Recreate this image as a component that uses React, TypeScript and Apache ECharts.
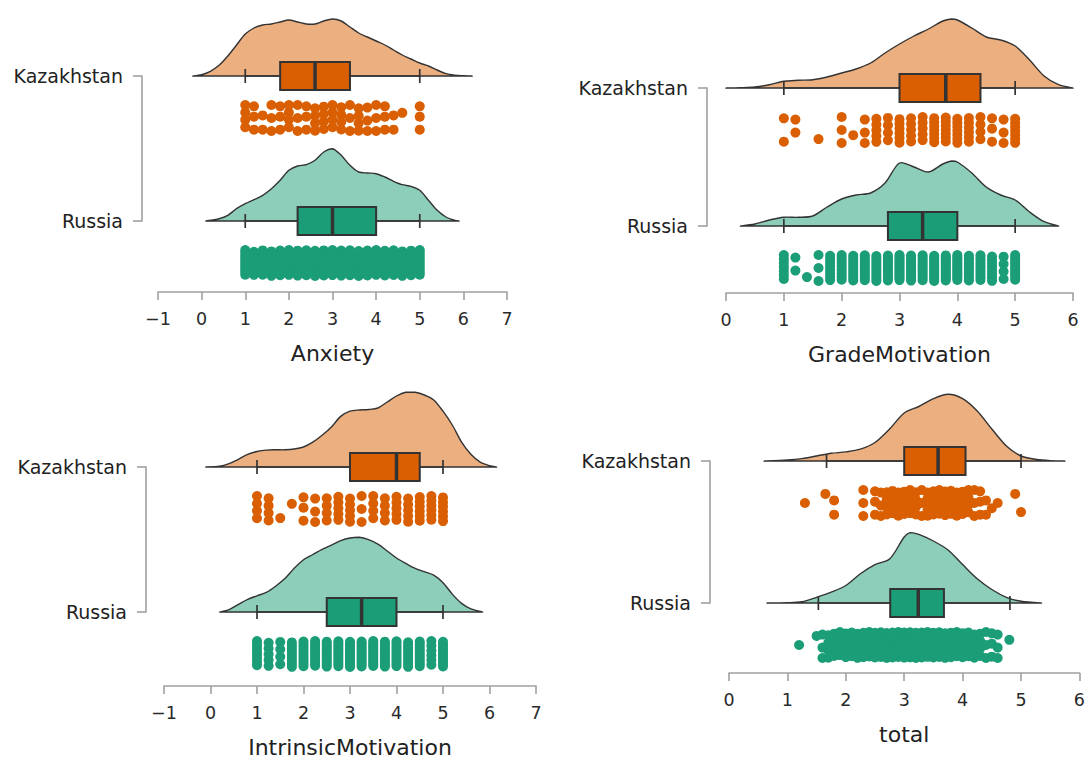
import { useEffect, useRef } from "react";
import * as echarts from "echarts";

// ---- data -------------------------------------------------------------
const groupNames = ["Kazakhstan", "Russia"];
const variables = ["Anxiety", "GradeMotivation", "IntrinsicMotivation", "total"];

// five-number summaries: [lower whisker, Q1, median, Q3, upper whisker]
const anxietyKazBox = [1, 1.8, 2.6, 3.4, 5];
const anxietyRusBox = [1, 2.2, 3.0, 4.0, 5];
const gradeKazBox = [1, 3.0, 3.8, 4.4, 5];
const gradeRusBox = [1, 2.8, 3.4, 4.0, 5];
const intrinsicKazBox = [1, 3.0, 4.0, 4.5, 5];
const intrinsicRusBox = [1, 2.5, 3.25, 4.0, 5];
const totalKazBox = [1.67, 3.0, 3.58, 4.05, 5.0];
const totalRusBox = [1.53, 2.76, 3.24, 3.68, 4.81];

// kernel density estimates: [score, density]
const anxietyKazDensity = [
  [-0.2, 0], [0, 0.013], [0.2, 0.047], [0.4, 0.107], [0.6, 0.2], [0.8, 0.31], [1.0, 0.42],
  [1.2, 0.48], [1.4, 0.51], [1.6, 0.52], [1.8, 0.54], [2.0, 0.56], [2.2, 0.54], [2.4, 0.52],
  [2.6, 0.52], [2.8, 0.55], [3.0, 0.57], [3.2, 0.55], [3.4, 0.49], [3.6, 0.43], [3.8, 0.39],
  [4.0, 0.35], [4.2, 0.31], [4.4, 0.26], [4.6, 0.21], [4.8, 0.17], [5.0, 0.13], [5.2, 0.1],
  [5.4, 0.06], [5.6, 0.023], [5.8, 0.007], [6.0, 0.002], [6.2, 0],
];
const anxietyRusDensity = [
  [0.1, 0], [0.4, 0.023], [0.6, 0.057], [0.8, 0.123], [1.0, 0.173], [1.2, 0.213], [1.4, 0.257],
  [1.6, 0.323], [1.8, 0.407], [2.0, 0.507], [2.2, 0.55], [2.4, 0.563], [2.6, 0.607], [2.8, 0.69],
  [3.0, 0.723], [3.2, 0.657], [3.4, 0.557], [3.6, 0.49], [3.8, 0.48], [4.0, 0.473], [4.2, 0.44],
  [4.4, 0.397], [4.6, 0.363], [4.8, 0.347], [5.0, 0.307], [5.2, 0.207], [5.4, 0.107], [5.6, 0.04],
  [5.8, 0.007], [5.9, 0],
];
const gradeKazDensity = [
  [0, 0], [0.25, 0.003], [0.5, 0.01], [0.75, 0.033], [1.0, 0.067], [1.25, 0.077], [1.5, 0.083],
  [1.75, 0.11], [2.0, 0.15], [2.25, 0.19], [2.5, 0.25], [2.75, 0.35], [3.0, 0.44], [3.25, 0.52],
  [3.5, 0.59], [3.75, 0.67], [3.9, 0.69], [4.0, 0.68], [4.25, 0.6], [4.5, 0.51], [4.75, 0.48],
  [5.0, 0.42], [5.25, 0.28], [5.5, 0.12], [5.75, 0.033], [6.0, 0],
];
const gradeRusDensity = [
  [0.25, 0], [0.5, 0.02], [0.75, 0.06], [1.0, 0.087], [1.25, 0.087], [1.5, 0.1], [1.75, 0.19],
  [2.0, 0.27], [2.25, 0.31], [2.5, 0.33], [2.75, 0.43], [3.0, 0.63], [3.25, 0.59], [3.5, 0.54],
  [3.75, 0.62], [3.9, 0.65], [4.0, 0.64], [4.25, 0.53], [4.5, 0.39], [4.75, 0.31], [5.0, 0.26],
  [5.25, 0.14], [5.5, 0.043], [5.75, 0],
];
const intrinsicKazDensity = [
  [-0.1, 0], [0.2, 0.007], [0.4, 0.034], [0.6, 0.076], [0.8, 0.127], [1.0, 0.155], [1.2, 0.169],
  [1.4, 0.172], [1.6, 0.172], [1.8, 0.18], [2.0, 0.2], [2.2, 0.248], [2.4, 0.317], [2.6, 0.4],
  [2.8, 0.506], [3.0, 0.558], [3.2, 0.57], [3.4, 0.575], [3.6, 0.59], [3.8, 0.65], [4.0, 0.71],
  [4.2, 0.747], [4.4, 0.747], [4.6, 0.72], [4.8, 0.67], [5.0, 0.558], [5.2, 0.42], [5.4, 0.248],
  [5.6, 0.127], [5.8, 0.048], [6.0, 0.014], [6.15, 0],
];
const intrinsicRusDensity = [
  [0.2, 0], [0.4, 0.024], [0.6, 0.076], [0.8, 0.127], [1.0, 0.162], [1.2, 0.196], [1.4, 0.258],
  [1.6, 0.334], [1.8, 0.437], [2.0, 0.523], [2.2, 0.575], [2.4, 0.627], [2.6, 0.668], [2.8, 0.713],
  [3.0, 0.74], [3.2, 0.747], [3.4, 0.723], [3.6, 0.678], [3.8, 0.61], [4.0, 0.54], [4.2, 0.486],
  [4.4, 0.437], [4.6, 0.403], [4.8, 0.368], [5.0, 0.293], [5.2, 0.179], [5.4, 0.086], [5.6, 0.031],
  [5.85, 0],
];
const totalKazDensity = [
  [0.6, 0], [1.0, 0.01], [1.25, 0.024], [1.5, 0.05], [1.75, 0.077], [2.0, 0.091], [2.25, 0.118],
  [2.5, 0.185], [2.75, 0.32], [3.0, 0.48], [3.25, 0.545], [3.5, 0.623], [3.75, 0.667], [4.0, 0.623],
  [4.25, 0.5], [4.5, 0.32], [4.75, 0.15], [5.0, 0.05], [5.25, 0.017], [5.5, 0.003], [5.75, 0],
];
const totalRusDensity = [
  [0.65, 0], [1.0, 0.003], [1.25, 0.013], [1.5, 0.057], [1.75, 0.108], [2.0, 0.175], [2.25, 0.293],
  [2.5, 0.384], [2.75, 0.44], [3.0, 0.66], [3.1, 0.704], [3.25, 0.687], [3.5, 0.62], [3.75, 0.53],
  [4.0, 0.384], [4.25, 0.242], [4.5, 0.135], [4.75, 0.057], [5.0, 0.017], [5.35, 0],
];

// observed scores: [score, number of respondents]
const anxietyKazCounts = [
  [1, 4], [1.2, 3], [1.4, 2], [1.6, 3], [1.8, 3], [2, 4], [2.2, 3], [2.4, 3], [2.6, 4], [2.8, 4],
  [3, 4], [3.2, 4], [3.4, 3], [3.6, 4], [3.8, 3], [4, 3], [4.2, 3], [4.4, 2], [4.6, 1], [5, 3],
];
const anxietyRusCounts = [
  [1, 10], [1.2, 5], [1.4, 8], [1.6, 9], [1.8, 10], [2, 12], [2.2, 12], [2.4, 13], [2.6, 14],
  [2.8, 15], [3, 15], [3.2, 14], [3.4, 13], [3.6, 12], [3.8, 12], [4, 12], [4.2, 11], [4.4, 10],
  [4.6, 9], [4.8, 9], [5, 10],
];
const gradeKazCounts = [
  [1, 2], [1.2, 2], [1.6, 1], [2, 3], [2.2, 1], [2.4, 3], [2.6, 5], [2.8, 4], [3, 6], [3.2, 5],
  [3.4, 5], [3.6, 7], [3.8, 7], [4, 7], [4.2, 6], [4.4, 4], [4.6, 3], [4.8, 3], [5, 7],
];
const gradeRusCounts = [
  [1, 7], [1.2, 2], [1.4, 1], [1.6, 3], [1.8, 8], [2, 10], [2.2, 10], [2.4, 12], [2.6, 11],
  [2.8, 13], [3, 15], [3.2, 13], [3.4, 12], [3.6, 14], [3.8, 14], [4, 14], [4.2, 11], [4.4, 10],
  [4.6, 8], [4.8, 4], [5, 10],
];
const intrinsicKazCounts = [
  [1, 4], [1.25, 4], [1.5, 1], [1.75, 1], [2, 3], [2.25, 3], [2.5, 4], [2.75, 5], [3, 5],
  [3.25, 3], [3.5, 4], [3.75, 4], [4, 5], [4.25, 5], [4.5, 6], [4.75, 6], [5, 6],
];
const intrinsicRusCounts = [
  [1, 8], [1.25, 5], [1.5, 4], [1.75, 9], [2, 10], [2.25, 11], [2.5, 12], [2.75, 12], [3, 14],
  [3.25, 13], [3.5, 13], [3.75, 12], [4, 11], [4.25, 10], [4.5, 10], [4.75, 6], [5, 10],
];
const totalKazCounts = [
  [1.3, 1], [1.65, 1], [1.8, 2], [2.3, 3], [2.5, 3], [2.6, 3], [2.7, 4], [2.8, 4], [2.9, 5],
  [3, 4], [3.1, 5], [3.2, 4], [3.3, 3], [3.4, 5], [3.5, 5], [3.6, 6], [3.7, 6], [3.8, 5],
  [3.9, 5], [4, 4], [4.1, 4], [4.2, 3], [4.3, 3], [4.4, 2], [4.5, 1], [4.6, 1], [4.9, 1], [5, 1],
];
const totalRusCounts = [
  [1.2, 1], [1.5, 1], [1.6, 3], [1.7, 4], [1.8, 4], [1.9, 5], [2, 6], [2.1, 6], [2.2, 7],
  [2.3, 8], [2.4, 9], [2.5, 10], [2.6, 10], [2.7, 11], [2.8, 12], [2.9, 13], [3, 14], [3.1, 15],
  [3.2, 14], [3.3, 13], [3.4, 12], [3.5, 11], [3.6, 10], [3.7, 10], [3.8, 9], [3.9, 8], [4, 7],
  [4.1, 6], [4.2, 5], [4.3, 4], [4.4, 3], [4.5, 3], [4.6, 3], [4.8, 1],
];

// ---- styling / layout -------------------------------------------------
const FONT = "DejaVu Sans";
const INK = "#333333";
const KAZ_COLOR = "#D95F02";
const KAZ_FILL = "#ECAF80";
const RUS_COLOR = "#1B9E77";
const RUS_FILL = "#8DCEBB";
const AXIS_GREY = "#a0a0a0";

type Group = {
  pos: number;
  color: string;
  fill: string;
  box: number[];
  density: number[][];
  counts: number[][];
};

type Panel = {
  title: string;
  xMin: number;
  xMax: number;
  left: number;
  right: number;
  kazY: number;
  rusY: number;
  axisY: number;
  bracketX: number;
  groups: Group[];
};

const kaz = (box: number[], density: number[][], counts: number[][]): Group => ({
  pos: 1, color: KAZ_COLOR, fill: KAZ_FILL, box, density, counts,
});
const rus = (box: number[], density: number[][], counts: number[][]): Group => ({
  pos: 0, color: RUS_COLOR, fill: RUS_FILL, box, density, counts,
});

const panels: Panel[] = [
  {
    title: variables[0], xMin: -1, xMax: 7, left: 158, right: 507,
    kazY: 76, rusY: 221, axisY: 292, bracketX: 142,
    groups: [kaz(anxietyKazBox, anxietyKazDensity, anxietyKazCounts), rus(anxietyRusBox, anxietyRusDensity, anxietyRusCounts)],
  },
  {
    title: variables[1], xMin: 0, xMax: 6, left: 726, right: 1073,
    kazY: 88, rusY: 226, axisY: 293, bracketX: 707,
    groups: [kaz(gradeKazBox, gradeKazDensity, gradeKazCounts), rus(gradeRusBox, gradeRusDensity, gradeRusCounts)],
  },
  {
    title: variables[2], xMin: -1, xMax: 7, left: 164, right: 536,
    kazY: 467, rusY: 612, axisY: 686, bracketX: 146,
    groups: [kaz(intrinsicKazBox, intrinsicKazDensity, intrinsicKazCounts), rus(intrinsicRusBox, intrinsicRusDensity, intrinsicRusCounts)],
  },
  {
    title: variables[3], xMin: 0, xMax: 6, left: 729, right: 1083,
    kazY: 461, rusY: 603, axisY: 673, bracketX: 710,
    groups: [kaz(totalKazBox, totalKazDensity, totalKazCounts), rus(totalRusBox, totalRusDensity, totalRusCounts)],
  },
];

const BOX_HALF = 14; // px
const CAP_HALF = 7; // px
const RAIN_OFFSET = 42; // px below the box centre
const RAIN_HALF = 13; // px
const DOT_SIZE = 10; // px

// vertical placement of the rain dots inside their strip (0 = top, 1 = bottom)
const SINGLE_ROWS = [0.5, 0.15, 0.85, 0.3, 0.7];
const PAIR_ROWS = [[0.05, 0.95], [0.1, 0.6], [0.4, 0.95]];
const TRIPLE_ROWS = [[0, 0.5, 1], [0.05, 0.45, 0.95], [0.1, 0.6, 1]];
const COLUMN_SHIFT = [0, 0.6, 0.25, 0.9, 0.45];

function rainPoints(g: Group, spacing: number): number[][] {
  const pts: number[][] = [];
  const centre = g.pos - RAIN_OFFSET / spacing;
  const half = RAIN_HALF / spacing;
  g.counts.forEach(([v, n], k) => {
    for (let i = 0; i < n; i++) {
      let t: number;
      if (n >= 4) t = (i + 0.5 * COLUMN_SHIFT[k % 5]) / (n - 0.5);
      else if (n === 3) t = TRIPLE_ROWS[k % 3][i];
      else if (n === 2) t = PAIR_ROWS[k % 3][i];
      else t = SINGLE_ROWS[k % 5];
      pts.push([v, centre + (0.5 - t) * 2 * half]);
    }
  });
  return pts;
}

function bounds(points: number[][]): number[][] {
  let x0 = Infinity, y0 = Infinity, x1 = -Infinity, y1 = -Infinity;
  points.forEach(([x, y]) => {
    x0 = Math.min(x0, x); y0 = Math.min(y0, y);
    x1 = Math.max(x1, x); y1 = Math.max(y1, y);
  });
  return [[x0, y0], [x1, y1]];
}

function buildOption() {
  const grid: any[] = [];
  const xAxis: any[] = [];
  const yAxis: any[] = [];
  const series: any[] = [];

  panels.forEach((p, i) => {
    const spacing = p.rusY - p.kazY;
    const ridgeScale = 100 / spacing; // category units per density unit
    grid.push({ left: p.left, top: p.kazY, width: p.right - p.left, height: spacing });
    xAxis.push({
      type: "value",
      gridIndex: i,
      min: p.xMin,
      max: p.xMax,
      interval: 1,
      position: "bottom",
      offset: p.axisY - p.rusY,
      name: p.title,
      nameLocation: "middle",
      nameGap: 50,
      nameTextStyle: { fontFamily: FONT, fontSize: 22, color: "#222" },
      axisLine: { show: true, onZero: false, lineStyle: { color: AXIS_GREY, width: 1.6 } },
      axisTick: { show: true, length: 8, lineStyle: { color: AXIS_GREY, width: 1.6 } },
      axisLabel: {
        fontFamily: FONT,
        fontSize: 17.5,
        color: "#2a2a2a",
        margin: 18,
        formatter: (v: number) => (v < 0 ? "\u2212" + Math.abs(v) : String(v)),
      },
      splitLine: { show: false },
    });
    yAxis.push({
      type: "value",
      gridIndex: i,
      min: 0,
      max: 1,
      interval: 1,
      offset: p.left - p.bracketX,
      axisLine: { show: true, onZero: false, lineStyle: { color: AXIS_GREY, width: 1.6 } },
      axisTick: { show: true, length: 9, lineStyle: { color: AXIS_GREY, width: 1.6 } },
      axisLabel: {
        fontFamily: FONT,
        fontSize: 19,
        color: "#222",
        margin: 19,
        formatter: (v: number) => (v === 1 ? groupNames[0] : v === 0 ? groupNames[1] : ""),
      },
      splitLine: { show: false },
    });

    // half-violin clouds
    series.push({
      type: "custom",
      xAxisIndex: i,
      yAxisIndex: i,
      clip: false,
      z: 1,
      silent: true,
      data: p.groups.map((g) => [g.box[2], g.pos]),
      encode: { x: 0, y: 1 },
      renderItem: (params: any, api: any) => {
        const g = p.groups[params.dataIndex];
        const points = g.density.map(([x, d]) => api.coord([x, g.pos + d * ridgeScale]));
        return {
          type: "polygon",
          shape: { points, smooth: 0.3, smoothConstraint: bounds(points) },
          style: { fill: g.fill, stroke: INK, lineWidth: 1.4 },
        };
      },
    });

    // rain
    p.groups.forEach((g) => {
      series.push({
        type: "scatter",
        xAxisIndex: i,
        yAxisIndex: i,
        clip: false,
        z: 2,
        silent: true,
        symbol: "circle",
        symbolSize: DOT_SIZE,
        itemStyle: { color: g.color, opacity: 1 },
        data: rainPoints(g, spacing),
      });
    });

    // box plots
    series.push({
      type: "custom",
      xAxisIndex: i,
      yAxisIndex: i,
      clip: false,
      z: 3,
      silent: true,
      data: p.groups.map((g) => [...g.box, g.pos]),
      encode: { x: [0, 1, 2, 3, 4], y: 5 },
      renderItem: (params: any, api: any) => {
        const g = p.groups[params.dataIndex];
        const y = api.value(5);
        const [lo, q1, md, q3, hi] = [0, 1, 2, 3, 4].map((k) => api.coord([api.value(k), y]));
        const cy = lo[1];
        const thin = { stroke: INK, lineWidth: 1.7 };
        return {
          type: "group",
          children: [
            { type: "line", shape: { x1: lo[0], y1: cy, x2: hi[0], y2: cy }, style: thin },
            { type: "line", shape: { x1: lo[0], y1: cy - CAP_HALF, x2: lo[0], y2: cy + CAP_HALF }, style: thin },
            { type: "line", shape: { x1: hi[0], y1: cy - CAP_HALF, x2: hi[0], y2: cy + CAP_HALF }, style: thin },
            {
              type: "rect",
              shape: { x: q1[0], y: cy - BOX_HALF, width: q3[0] - q1[0], height: 2 * BOX_HALF },
              style: { fill: g.color, stroke: INK, lineWidth: 2 },
            },
            {
              type: "line",
              shape: { x1: md[0], y1: cy - BOX_HALF, x2: md[0], y2: cy + BOX_HALF },
              style: { stroke: INK, lineWidth: 3.5 },
            },
          ],
        };
      },
    });
  });

  return {
    animation: false,
    backgroundColor: "#ffffff",
    textStyle: { fontFamily: FONT },
    grid,
    xAxis,
    yAxis,
    series,
  };
}

export default function App() {
  const ref = useRef<HTMLDivElement>(null);
  useEffect(() => {
    if (!ref.current) return;
    const chart = echarts.init(ref.current, undefined, { renderer: "svg" });
    chart.setOption(buildOption() as any);
    return () => chart.dispose();
  }, []);
  return (
    <div
      ref={ref}
      style={{ position: "absolute", left: 0, top: 0, width: 1088, height: 760, background: "#fff" }}
    />
  );
}
